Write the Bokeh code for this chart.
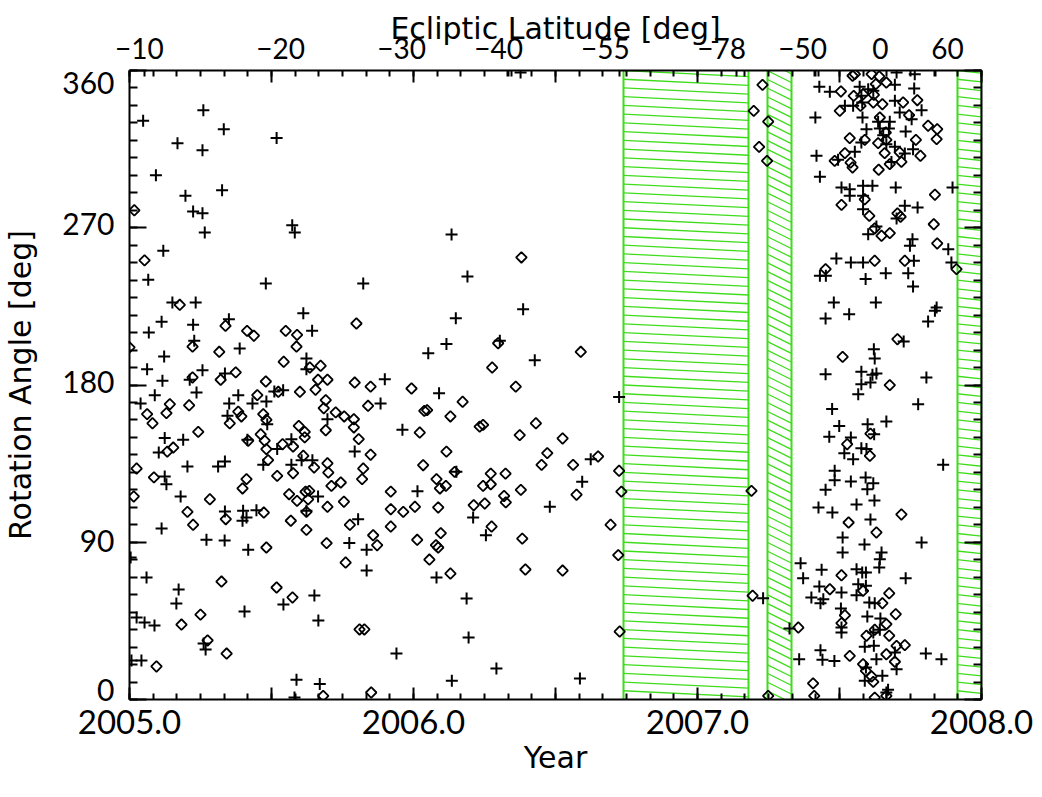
import numpy as np
from bokeh.plotting import figure
from bokeh.models import LinearAxis, FixedTicker, Range1d
from bokeh.embed import file_html
from bokeh.resources import INLINE

FONT = "Lato"
TITLE_FONT = "DejaVu Sans"
GREEN = "#3fdc1c"

# ---- '+' symbols: year, rotation angle [deg]
cross_year = [
    2005.066, 2005.480, 2005.823, 2005.151, 2005.233, 2005.612, 2005.113, 2005.224, 2005.350, 2005.068,
    2005.643, 2005.228, 2005.388, 2005.122, 2005.623, 2005.062, 2005.257, 2005.336, 2005.623, 2005.116,
    2005.212, 2005.899, 2005.089, 2005.236, 2005.383, 2005.510, 2005.541, 2005.039, 2005.351, 2005.433,
    2005.482, 2005.884, 2005.345, 2005.485, 2005.697, 2005.961, 2005.124, 2005.189, 2005.415, 2005.570,
    2005.520, 2005.103, 2005.793, 2005.606, 2005.644, 2005.336, 2005.204, 2005.312, 2005.471, 2005.570,
    2005.124, 2005.130, 2005.180, 2005.664, 2006.014, 2005.336, 2005.400, 2005.447, 2005.412, 2005.398,
    2005.623, 2005.805, 2005.113, 2005.271, 2005.774, 2005.418, 2005.835,
    2006.190, 2006.386, 2006.149, 2006.116, 2006.052, 2006.427, 2006.304, 2006.090, 2006.724, 2006.624,
    2006.594, 2006.151, 2006.480, 2006.210, 2006.255,
    2005.048, 2005.260, 2005.332, 2005.169, 2005.257, 2005.518, 2005.093, 2005.197, 2005.326, 2005.224,
    2005.257, 2005.265, 2005.573, 2005.582, 2005.119,
    2006.134, 2006.377,
    2005.004, 2005.060, 2005.173, 2005.165, 2005.025, 2005.053, 2005.088, 2005.335, 2005.007, 2005.042,
    2005.261, 2005.268, 2005.405, 2005.542, 2005.651, 2005.665, 2005.835, 2005.940,
    2006.081, 2006.187, 2006.194, 2006.292,
    2005.588, 2005.581, 2005.670, 2006.135, 2006.586,
    2007.429, 2007.466, 2007.571, 2007.601, 2007.577, 2007.619, 2007.695, 2007.701, 2007.765, 2007.763,
    2007.695, 2007.519, 2007.548, 2007.580, 2007.712, 2007.789, 2007.415, 2007.581, 2007.636, 2007.677,
    2007.754, 2007.595, 2007.733, 2007.654, 2007.642, 2007.674, 2007.577, 2007.554, 2007.665, 2007.695,
    2007.759, 2007.730, 2007.419, 2007.495, 2007.683, 2007.431, 2007.507, 2007.536, 2007.583, 2007.616,
    2007.583, 2007.536, 2007.698, 2007.898, 2007.730, 2007.775, 2007.583, 2007.701, 2007.630, 2007.601,
    2007.757, 2007.748, 2007.883,
    2007.894, 2007.489, 2007.540, 2007.583, 2007.431, 2007.452, 2007.663, 2007.742, 2007.762, 2007.592,
    2007.759, 2007.480, 2007.628, 2007.451, 2007.534, 2007.842, 2007.836, 2007.812, 2007.726, 2007.621,
    2007.624, 2007.451, 2007.577, 2007.616, 2007.630, 2007.577, 2007.609, 2007.566, 2007.806, 2007.777,
    2007.474, 2007.499, 2007.599, 2007.665, 2007.464, 2007.540, 2007.622, 2007.577, 2007.595, 2007.517,
    2007.548, 2007.865, 2007.483, 2007.483, 2007.540, 2007.592, 2007.619, 2007.451, 2007.598,
    2007.426, 2007.475, 2007.560, 2007.623, 2007.609, 2007.511, 2007.588, 2007.789,
    2007.231, 2007.363, 2007.372, 2007.437, 2007.429, 2007.401, 2007.443, 2007.433, 2007.507, 2007.505,
    2007.507, 2007.507, 2007.560, 2007.580, 2007.593, 2007.566, 2007.593, 2007.560, 2007.642, 2007.640,
    2007.733, 2007.605, 2007.624, 2007.598, 2007.644, 2007.619, 2007.642, 2007.589, 2007.621, 2007.695,
    2007.701, 2007.358, 2007.433, 2007.440, 2007.482, 2007.804, 2007.859, 2007.630, 2007.593, 2007.589,
    2007.651, 2007.671, 2007.511, 2007.648, 2007.324, 2007.665]
cross_angle = [
    240.2, 238.1, 238.1, 227.2, 227.2, 221.1, 216.2, 214.5, 217.7, 210.0,
    211.0, 205.3, 200.9, 196.3, 195.2, 189.0, 188.5, 186.6, 189.0, 182.4,
    183.0, 183.3, 174.2, 175.7, 174.2, 176.3, 177.0, 169.4, 169.4, 169.4,
    170.6, 169.4, 162.4, 157.6, 160.4, 154.4, 149.6, 148.6, 148.6, 149.0,
    143.3, 141.4, 141.9, 137.0, 137.0, 136.2, 133.4, 133.4, 134.3, 134.3,
    127.6, 123.2, 116.2, 116.2, 119.2, 107.6, 108.0, 108.3, 104.2, 102.3,
    108.0, 103.2, 97.9, 91.4, 89.5, 85.7, 85.7,
    242.1, 223.4, 218.2, 203.4, 198.2, 194.2, 205.3, 175.3, 173.2, 137.5,
    124.6, 130.3, 110.3, 104.2, 94.0,
    331.2, 337.3, 326.4, 318.4, 314.4, 321.3, 300.1, 288.3, 291.5, 279.3,
    278.3, 267.3, 271.5, 267.3, 256.8,
    266.1, 358.9,
    81.3, 69.8, 63.0, 54.9, 46.9, 44.1, 42.4, 91.0, 22.3, 22.3,
    32.1, 28.6, 50.4, 54.4, 59.5, 45.2, 73.8, 26.3,
    69.8, 57.8, 35.5, 17.7,
    11.3, 1.1, 8.8, 10.7, 12.0,
    350.7, 347.8, 350.7, 349.3, 345.5, 348.4, 351.8, 358.9, 357.9, 349.7,
    342.7, 339.8, 339.8, 341.7, 336.0, 337.3, 333.1, 333.1, 330.6, 330.6,
    332.1, 326.4, 325.1, 323.0, 326.8, 326.8, 318.8, 313.5, 317.8, 316.3,
    315.0, 312.5, 311.2, 308.9, 307.7, 299.2, 293.0, 292.1, 294.0, 294.0,
    288.3, 288.3, 293.0, 293.0, 282.6, 281.6, 280.6, 275.3, 270.7, 266.3,
    263.4, 259.7, 257.7,
    250.1, 252.4, 250.1, 250.1, 242.5, 242.5, 244.0, 244.0, 251.1, 240.6,
    236.4, 227.2, 227.2, 218.1, 220.5, 224.4, 222.5, 216.3, 204.9, 200.5,
    195.2, 186.2, 187.6, 185.8, 186.6, 180.5, 181.4, 174.7, 184.3, 169.0,
    166.2, 156.6, 157.6, 159.1, 150.4, 150.0, 151.8, 143.8, 143.3, 141.0,
    137.5, 134.3, 130.9, 125.5, 124.8, 127.1, 123.8, 120.0, 120.4,
    109.9, 107.0, 111.6, 113.9, 103.0, 92.7, 88.7, 89.9,
    58.0, 78.0, 69.4, 74.2, 64.7, 58.4, 57.4, 55.1, 61.2, 52.1,
    38.3, 41.2, 74.6, 72.7, 72.7, 66.0, 65.1, 59.7, 80.3, 75.5,
    69.4, 55.5, 55.1, 47.5, 46.4, 38.3, 39.9, 30.2, 30.7, 26.9,
    17.3, 23.1, 28.2, 22.7, 22.1, 26.3, 23.1, 23.1, 18.3, 10.7,
    13.6, 5.6, 84.1, 84.1, 40.6, 4.0]

# ---- diamond symbols: year, rotation angle [deg]
diam_year = [
    2005.177, 2005.338, 2005.414, 2005.438, 2005.550, 2005.590, 2005.799, 2005.222, 2005.316, 2005.588,
    2005.543, 2005.635, 2005.673, 2005.222, 2005.321, 2005.374, 2005.480, 2005.664, 2005.697, 2005.793,
    2005.849, 2005.993, 2005.450, 2005.524, 2005.600, 2005.655, 2005.142, 2005.210, 2005.691, 2005.684,
    2005.840, 2006.038, 2005.062, 2005.081, 2005.130, 2005.383, 2005.394, 2005.353, 2005.471, 2005.482,
    2005.726, 2005.756, 2005.790, 2005.790, 2005.596, 2005.617, 2005.691, 2005.242, 2005.462, 2005.476,
    2005.418, 2005.617, 2005.807, 2006.022, 2005.539, 2005.576, 2005.133, 2005.154, 2005.612, 2005.849,
    2005.482, 2005.025, 2005.488, 2005.576, 2005.650, 2005.697, 2005.700, 2005.823, 2006.034, 2005.086,
    2005.412, 2005.398, 2005.520, 2005.711, 2005.744, 2005.819, 2005.015, 2005.283, 2005.562, 2005.590,
    2005.620, 2005.633, 2005.629, 2005.755, 2005.920, 2005.204, 2005.339, 2005.473, 2005.623, 2005.697,
    2005.920, 2005.964, 2006.005, 2005.224, 2005.568, 2005.623, 2005.776, 2005.920, 2005.858, 2005.872,
    2005.694, 2005.482, 2006.013,
    2006.298, 2006.589, 2006.277, 2006.360, 2006.173, 2006.048, 2006.130, 2006.233, 2006.245, 2006.374,
    2006.431, 2006.525, 2006.116, 2006.471, 2006.451, 2006.562, 2006.650, 2006.145, 2006.272, 2006.324,
    2006.081, 2006.093, 2006.114, 2006.245, 2006.272, 2006.378, 2006.574, 2006.724, 2006.732, 2006.087,
    2006.212, 2006.251, 2006.319, 2006.325, 2006.096, 2006.079, 2006.087, 2006.275, 2006.383, 2006.694,
    2005.017, 2006.380, 2005.053, 2005.000,
    2005.095, 2005.183, 2005.250, 2005.324, 2005.342, 2005.275, 2005.518, 2005.574, 2005.761, 2005.810,
    2005.827, 2005.682, 2005.851, 2006.056, 2006.130, 2006.394, 2006.525,
    2007.229, 2007.198, 2007.249, 2007.217, 2007.245, 2007.546, 2007.613, 2007.640, 2007.628, 2007.665,
    2007.505, 2007.550, 2007.583, 2007.621, 2007.619, 2007.651, 2007.724, 2007.774, 2007.501, 2007.574,
    2007.642, 2007.745, 2007.812, 2007.844, 2007.842, 2007.769, 2007.536, 2007.589, 2007.636, 2007.665,
    2007.663, 2007.712, 2007.785, 2007.659, 2007.519, 2007.483, 2007.539, 2007.546, 2007.638, 2007.677,
    2007.718, 2007.836, 2007.507, 2007.589, 2007.605, 2007.704, 2007.715, 2007.832, 2007.624, 2007.648,
    2007.677, 2007.844, 2007.554,
    2007.451, 2007.624, 2007.730, 2007.912, 2007.704, 2007.511, 2007.677, 2007.609, 2007.527, 2007.607,
    2007.190, 2007.532, 2007.630, 2007.718,
    2006.721, 2006.726, 2007.194, 2007.355, 2007.249, 2007.507, 2007.466, 2007.583, 2007.675, 2007.651,
    2007.698, 2007.519, 2007.507, 2007.665, 2007.624, 2007.675, 2007.595, 2007.730, 2007.701, 2007.665,
    2007.695, 2007.536, 2007.583, 2007.593, 2007.613, 2007.619, 2007.407, 2007.411, 2007.624, 2007.665]
diam_angle = [
    225.9, 213.9, 211.0, 208.2, 211.0, 208.7, 215.2, 202.0, 199.0, 202.0,
    193.3, 190.0, 191.0, 184.3, 183.0, 187.2, 182.0, 183.0, 183.0, 181.4,
    179.1, 178.0, 174.2, 176.1, 176.1, 177.3, 169.0, 168.4, 171.3, 166.7,
    168.1, 165.2, 163.3, 158.1, 163.9, 164.7, 162.0, 158.1, 163.3, 160.1,
    164.3, 162.0, 160.4, 155.7, 156.6, 153.2, 154.1, 153.2, 151.8, 148.1,
    148.1, 150.0, 149.0, 152.8, 146.1, 144.8, 141.9, 144.2, 139.5, 140.1,
    143.3, 132.2, 137.0, 129.5, 132.8, 135.2, 129.9, 132.2, 134.1, 127.1,
    126.1, 120.8, 128.0, 122.3, 124.2, 126.1, 116.2, 114.6, 117.5, 113.7,
    118.9, 119.4, 114.6, 113.2, 119.0, 107.4, 103.2, 107.0, 107.4, 110.3,
    108.9, 107.4, 110.3, 100.0, 102.3, 97.1, 100.0, 99.0, 94.0, 88.3,
    89.5, 87.0, 91.4,
    203.9, 199.0, 190.0, 179.1, 170.4, 165.6, 162.0, 156.2, 157.2, 151.3,
    158.1, 149.4, 141.9, 141.0, 134.3, 134.3, 139.1, 130.3, 129.3, 129.3,
    126.1, 120.8, 122.3, 122.3, 123.2, 120.0, 117.2, 130.9, 119.0, 109.9,
    111.2, 112.2, 116.5, 112.8, 95.2, 88.3, 87.0, 99.0, 92.1, 100.0,
    280.0, 253.0, 251.3, 201.5,
    18.9, 42.9, 48.6, 67.5, 26.3, 33.8, 64.1, 58.4, 78.4, 40.1,
    40.1, 2.1, 4.0, 80.1, 72.1, 74.4, 73.8,
    351.8, 336.9, 330.8, 316.3, 308.3, 357.0, 357.9, 356.6, 352.2, 353.1,
    348.0, 345.5, 346.4, 346.1, 341.7, 340.7, 341.7, 343.0, 336.9, 339.8,
    333.1, 334.4, 328.4, 326.4, 320.7, 320.3, 321.3, 320.3, 318.4, 320.3,
    324.5, 313.1, 311.2, 312.7, 312.7, 308.3, 307.3, 304.5, 303.2, 306.4,
    307.7, 288.9, 283.1, 286.3, 276.8, 278.2, 276.3, 272.0, 269.6, 265.4,
    266.9, 261.0, 357.9,
    246.3, 251.1, 251.1, 246.3, 206.2, 196.1, 179.9, 152.2, 146.1, 139.5,
    119.4, 101.3, 95.6, 105.9,
    82.6, 38.9, 59.4, 41.2, 2.1, 71.1, 63.1, 62.2, 60.8, 55.1,
    48.8, 48.2, 43.7, 43.1, 39.9, 36.5, 36.5, 31.1, 30.7, 25.9,
    21.6, 25.0, 20.2, 16.4, 13.2, 10.1, 9.2, 2.1, 1.1, 2.1]

# ---- data gaps (hatched bands) in years, and hatch-line drop across each band [deg]
gap_start = [2006.740, 2007.245, 2007.914]
gap_end = [2007.180, 2007.332, 2008.000]
gap_drop = [3.5, 7.0, 1.5]

# ---- top axis: ecliptic latitude labels placed at years
lat_year = [2005.035, 2005.532, 2005.958, 2006.300, 2006.676, 2007.085, 2007.370, 2007.644, 2007.880]
lat_label = ["\u221210", "\u221220", "\u221230", "\u221240", "\u221255", "\u221278", "\u221250", "0", "60"]
lat_extra_ticks = [2005.053, 2006.331, 2006.345, 2006.725, 2007.137, 2007.165, 2007.412, 2007.426, 2007.838]

year_major = [2005.0, 2006.0, 2007.0, 2008.0]
year_half = [2005.5, 2006.5, 2007.5]
months = [2005 + k / 12 for k in range(37)]

angle_major = [0, 90, 180, 270, 360]
angle_minor = list(range(0, 361, 10))
angle_label_pos = [5.5, 90.5, 182.0, 272.0, 353.0]
angle_label = ["0", "90", "180", "270", "360"]

p = figure(frame_width=852, frame_height=629, x_range=Range1d(2005, 2008), y_range=Range1d(0, 360),
           output_backend="svg", toolbar_location=None,
           min_border_left=125, min_border_right=55, min_border_top=70, min_border_bottom=88)
p.grid.visible = False
p.outline_line_color = None
p.background_fill_color = "white"


def style_ticks(ax, maj_in, min_in):
    ax.axis_line_width = 2
    ax.axis_line_color = "black"
    ax.major_tick_in = maj_in
    ax.major_tick_out = 0
    ax.minor_tick_in = min_in
    ax.minor_tick_out = 0
    ax.major_tick_line_width = 2
    ax.minor_tick_line_width = 2
    ax.major_tick_line_color = "black"
    ax.minor_tick_line_color = "black"
    ax.major_label_text_color = "black"
    ax.axis_label_text_color = "black"


def labels_only(ax):
    ax.axis_line_color = None
    ax.major_tick_line_color = None
    ax.minor_tick_line_color = None
    ax.major_tick_in = 0
    ax.major_tick_out = 0
    ax.minor_tick_in = 0
    ax.minor_tick_out = 0
    ax.major_label_text_color = "black"
    ax.axis_label_text_color = "black"
    ax.major_label_text_font = FONT
    ax.axis_label_text_font = TITLE_FONT
    ax.axis_label_text_font_style = "normal"


# bottom
xb = p.xaxis[0]
xb.ticker = FixedTicker(ticks=year_major + year_half, minor_ticks=months)
ov = {y: f"{y:.1f}" for y in year_major}
ov.update({y: "" for y in year_half})
xb.major_label_overrides = ov
style_ticks(xb, 12, 6)
xb.major_label_text_font = FONT
xb.major_label_text_font_size = "33px"
xb.major_label_standoff = 10
xb.axis_label = "Year"
xb.axis_label_text_font = TITLE_FONT
xb.axis_label_text_font_size = "30px"
xb.axis_label_text_font_style = "normal"
xb.axis_label_standoff = 3

# left: inner ticks-only axis
yl = p.yaxis[0]
yl.ticker = FixedTicker(ticks=angle_major, minor_ticks=angle_minor)
style_ticks(yl, 17, 8)
yl.major_label_overrides = {a: "" for a in angle_major}
yl.major_label_standoff = 0

# left: outer labels axis
yll = LinearAxis(ticker=FixedTicker(ticks=angle_label_pos, minor_ticks=[]))
labels_only(yll)
yll.major_label_overrides = dict(zip(angle_label_pos, angle_label))
yll.major_label_text_font_size = "30px"
yll.major_label_standoff = 15
yll.axis_label = "Rotation Angle [deg]"
yll.axis_label_text_font_size = "30px"
yll.axis_label_standoff = 21
p.add_layout(yll, "left")

# right (ticks only)
yr = LinearAxis(ticker=FixedTicker(ticks=angle_major, minor_ticks=angle_minor))
style_ticks(yr, 17, 8)
yr.major_label_overrides = {a: "" for a in angle_major}
yr.major_label_standoff = 0
p.add_layout(yr, "right")

# top inner (ticks only)
xt = LinearAxis(ticker=FixedTicker(ticks=year_half + year_major, minor_ticks=months + lat_extra_ticks))
style_ticks(xt, 12, 6)
xt.major_label_overrides = {y: "" for y in year_half + year_major}
xt.major_label_standoff = 0
p.add_layout(xt, "above")

# top outer (ecliptic latitude labels)
xl = LinearAxis(ticker=FixedTicker(ticks=lat_year, minor_ticks=[]))
labels_only(xl)
xl.major_label_overrides = dict(zip(lat_year, lat_label))
xl.major_label_text_font_size = "28px"
xl.major_label_standoff = 12
xl.axis_label = "Ecliptic Latitude [deg]"
xl.axis_label_text_font_size = "30px"
xl.axis_label_standoff = -11
p.add_layout(xl, "above")

# hatched data gaps
hx0, hy0, hx1, hy1 = [], [], [], []
for s, e, d in zip(gap_start, gap_end, gap_drop):
    for k in range(-2, 76):
        hx0.append(s); hy0.append(k * 5.0)
        hx1.append(e); hy1.append(k * 5.0 - d)
p.segment(hx0, hy0, hx1, hy1, line_color=GREEN, line_width=1.3)
p.vspan(x=gap_start + gap_end, line_color=GREEN, line_width=2)

# symbols
p.scatter(cross_year, cross_angle, marker="cross", size=12, line_color="black", line_width=2)
p.scatter(diam_year, diam_angle, marker="square", angle=np.pi / 4, size=7.5,
          line_color="black", fill_color=None, line_width=1.8)

open("out.html", "w").write(file_html(p, INLINE))
